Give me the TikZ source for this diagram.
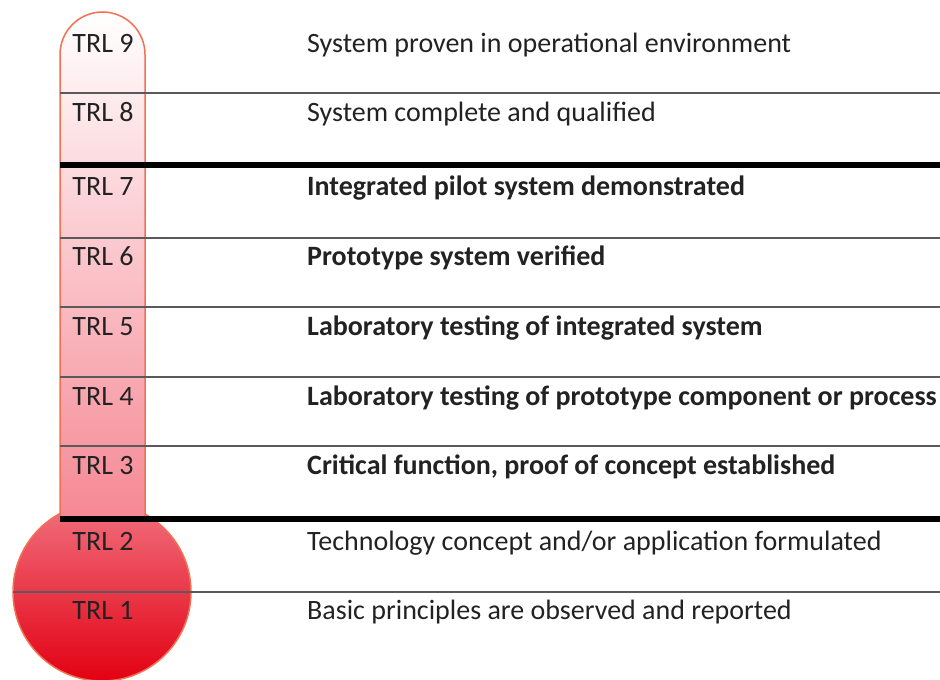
\documentclass[tikz,border=0pt]{standalone}
\usepackage{fontspec}
\setmainfont{Carlito}
\definecolor{tubeline}{RGB}{243,112,82}
\definecolor{tubebot}{RGB}{245,136,148}
\definecolor{bulbtop}{RGB}{241,112,126}
\definecolor{bulbbot}{RGB}{226,0,18}
\definecolor{textgray}{RGB}{34,34,34}
\definecolor{rulegray}{RGB}{90,90,90}
\begin{document}
\begin{tikzpicture}[x=1pt,y=1pt,
  lvl/.style={anchor=base,text=textgray,font=\fontsize{28}{32}\selectfont},
  desc/.style={anchor=base west,text=textgray,font=\fontsize{28}{32}\selectfont},
  descb/.style={desc,font=\fontsize{28}{32}\selectfont\bfseries},
  thinrule/.style={rulegray,line width=1.6},
  thickrule/.style={black,line width=6}]
\tikzstyle{every node}+=[inner sep=0pt]
\useasboundingbox (0,0) rectangle (940,-680);
% thermometer
\shade [top color=bulbtop,bottom color=bulbbot,draw=tubeline,line width=1.5] (102,-592) circle (89);
\shade [top color=white,bottom color=tubebot,draw=tubeline,line width=1.5] (60,-519) -- (60,-54.5) arc (180:0:42.5) -- (145,-519);
% rules
\draw [thinrule] (60,-93) -- (940,-93);
\draw [thickrule] (60,-165) -- (940,-165);
\draw [thinrule] (60,-238) -- (940,-238);
\draw [thinrule] (60,-307) -- (940,-307);
\draw [thinrule] (60,-377) -- (940,-377);
\draw [thinrule] (60,-446) -- (940,-446);
\draw [thickrule] (60,-519) -- (940,-519);
\draw [thinrule] (13,-592) -- (940,-592);
% levels
\draw (103,-52) node [lvl] (l9) {TRL 9};
\draw (307,-52) node [desc] (d9) {System proven in operational environment};
\draw (103,-121) node [lvl] (l8) {TRL 8};
\draw (307,-121) node [desc] (d8) {System complete and qualified};
\draw (103,-195) node [lvl] (l7) {TRL 7};
\draw (307,-195) node [descb] (d7) {Integrated pilot system demonstrated};
\draw (103,-265) node [lvl] (l6) {TRL 6};
\draw (307,-265) node [descb] (d6) {Prototype system verified};
\draw (103,-335) node [lvl] (l5) {TRL 5};
\draw (307,-335) node [descb] (d5) {Laboratory testing of integrated system};
\draw (103,-405) node [lvl] (l4) {TRL 4};
\draw (307,-405) node [descb] (d4) {Laboratory testing of prototype component or process};
\draw (103,-474) node [lvl] (l3) {TRL 3};
\draw (307,-474) node [descb] (d3) {Critical function, proof of concept established};
\draw (103,-550) node [lvl] (l2) {TRL 2};
\draw (307,-550) node [desc] (d2) {Technology concept and/or application formulated};
\draw (103,-619) node [lvl] (l1) {TRL 1};
\draw (307,-619) node [desc] (d1) {Basic principles are observed and reported};
\end{tikzpicture}
\end{document}
